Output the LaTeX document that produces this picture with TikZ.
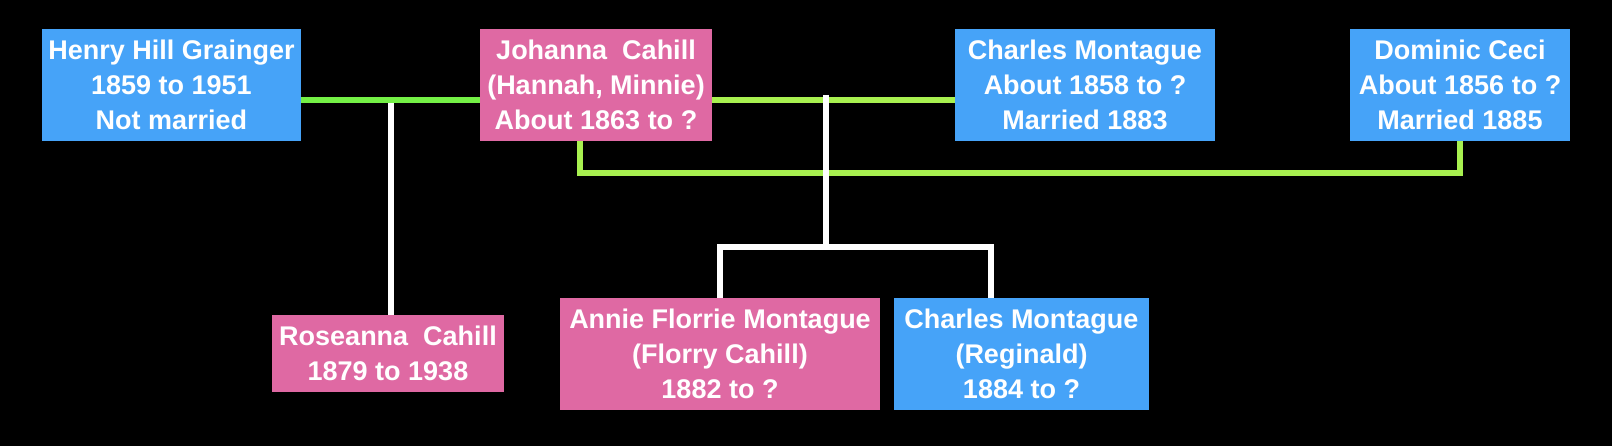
\documentclass[tikz,border=0pt]{standalone}
\usepackage{fontspec}
\setmainfont{Liberation Sans}
\usetikzlibrary{calc,positioning}
\definecolor{maleblue}{HTML}{46A3F8}
\definecolor{femalepink}{HTML}{DF69A3}
\definecolor{wedgreen}{HTML}{74F046}
\definecolor{wedlime}{HTML}{A8F050}
\tikzset{
  personbox/.style={
    draw=none,
    inner sep=0pt,
    minimum height=112pt,
    align=center,
    text=white,
    font=\fontsize{27}{35}\selectfont\bfseries
  },
  malebox/.style={personbox, fill=maleblue},
  femalebox/.style={personbox, fill=femalepink},
  marriage/.style={line width=6.5pt, draw=wedgreen},
  latermarriage/.style={line width=6.5pt, draw=wedlime},
  descent/.style={line width=6pt, draw=white}
}

\begin{document}
\begin{tikzpicture}[x=1pt, y=-1pt]
  \fill[black] (0,0) rectangle (1612,446);
  \useasboundingbox (0,0) rectangle (1612,446);

  % parents row
  \node[malebox, minimum width=259pt] (henry) at (171.5,85)
    {Henry Hill Grainger\\1859 to 1951\\Not married};
  \node[femalebox, minimum width=232pt] (johanna) at (596,85)
    {Johanna~~Cahill\\(Hannah, Minnie)\\About 1863 to ?};
  \node[malebox, minimum width=260pt] (charles) at (1085,85)
    {Charles Montague\\About 1858 to ?\\Married 1883};
  \node[malebox, minimum width=220pt] (dominic) at (1460,85)
    {Dominic Ceci\\About 1856 to ?\\Married 1885};

  % children row
  \node[femalebox, minimum width=232pt, minimum height=77pt] (roseanna) at (388,353.5)
    {Roseanna~~Cahill\\1879 to 1938};
  \node[femalebox, minimum width=320pt] (annie) at (720,354)
    {Annie Florrie Montague\\(Florry Cahill)\\1882 to ?};
  \node[malebox, minimum width=255pt] (reginald) at (1021.5,354)
    {Charles Montague\\(Reginald)\\1884 to ?};

  \coordinate (link1) at (391,100);
  \coordinate (link2) at (826,100);
  \coordinate (link2top) at (826,95);
  \coordinate (kids) at (826,247);
  \coordinate (kidsR) at (991,247);
  \coordinate (link3) at (580,173);

  \draw[descent] (link1) -- (link1 |- roseanna.north);
  \draw[marriage] (henry.east |- link1) -- (johanna.west |- link1);
  \draw[latermarriage] (johanna.east |- link2) -- (charles.west |- link2);
  \draw[latermarriage] (link3 |- johanna.south) -- (link3) -| (dominic.south);

  \draw[descent] (link2top) -- (kids);
  \draw[descent] (annie.north) -- (annie.north |- kids) -- (kidsR) -- (kidsR |- reginald.north);
\end{tikzpicture}
\end{document}
